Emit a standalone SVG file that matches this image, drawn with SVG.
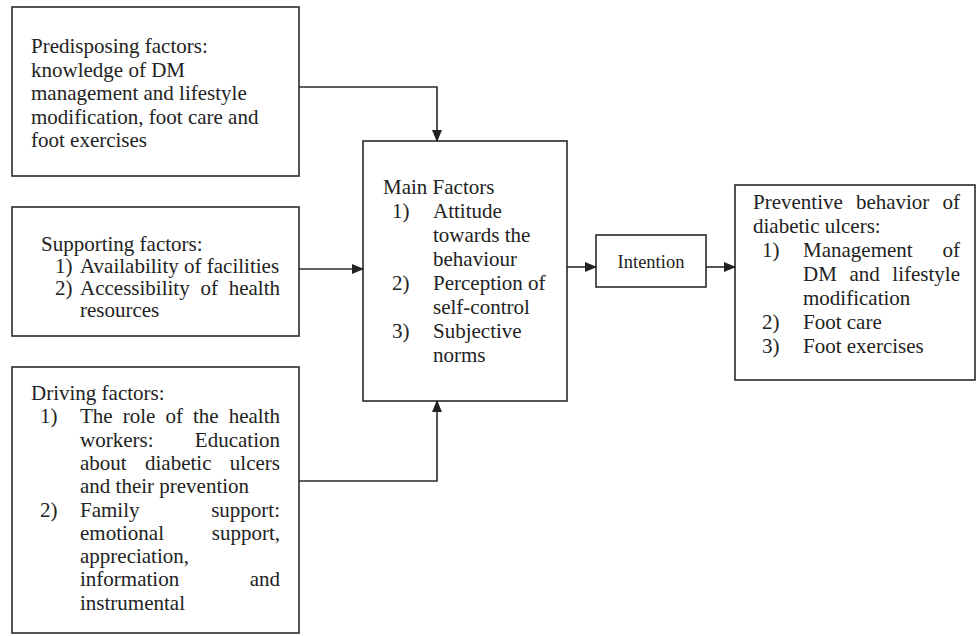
<svg xmlns="http://www.w3.org/2000/svg" width="977" height="636" viewBox="0 0 977 636">
<defs>
<marker id="ah" markerWidth="12" markerHeight="10" refX="11" refY="5" orient="auto" markerUnits="userSpaceOnUse"><path d="M0,0 L12,5 L0,10 Z" fill="#222"/></marker>
</defs>
<style>
.box{fill:none;stroke:#2a2a2a;stroke-width:1.6}
.t{font-family:"Liberation Serif","Times New Roman",serif;font-size:21px;fill:#222}
.e{text-anchor:end}
.conn{fill:none;stroke:#2a2a2a;stroke-width:1.6}
</style>
<rect width="977" height="636" fill="#fff"/>

<g id="predisposing">
<rect class="box" x="12" y="7" width="287" height="169"/>
<text class="t" x="31" y="53">Predisposing factors:</text>
<text class="t" x="31" y="76.5">knowledge of DM</text>
<text class="t" x="31" y="100">management and lifestyle</text>
<text class="t" x="31" y="123.5">modification, foot care and</text>
<text class="t" x="31" y="147">foot exercises</text>
</g>

<g id="supporting">
<rect class="box" x="12" y="207" width="287" height="129"/>
<text class="t" x="41" y="251">Supporting factors:</text>
<text class="t" x="55" y="273">1)</text>
<text class="t" x="80" y="273">Availability of facilities</text>
<text class="t" x="55" y="295">2)</text>
<text class="t" x="80" y="295">Accessibility</text>
<text class="t" x="200.4" y="295">of</text>
<text class="t e" x="280" y="295">health</text>
<text class="t" x="80" y="317">resources</text>
</g>

<g id="driving">
<rect class="box" x="12" y="367" width="287" height="266"/>
<text class="t" x="31" y="400">Driving factors:</text>
<text class="t" x="40" y="423.3">1)</text>
<text class="t" x="80" y="423.3">The</text>
<text class="t" x="122.7" y="423.3">role</text>
<text class="t" x="165.4" y="423.3">of</text>
<text class="t" x="192.9" y="423.3">the</text>
<text class="t e" x="280" y="423.3">health</text>
<text class="t" x="80" y="446.6">workers:</text>
<text class="t e" x="280" y="446.6">Education</text>
<text class="t" x="80" y="469.9">about</text>
<text class="t" x="145" y="469.9">diabetic</text>
<text class="t e" x="280" y="469.9">ulcers</text>
<text class="t" x="80" y="493.2">and their prevention</text>
<text class="t" x="40" y="516.5">2)</text>
<text class="t" x="80" y="516.5">Family</text>
<text class="t e" x="280" y="516.5">support:</text>
<text class="t" x="80" y="539.8">emotional</text>
<text class="t e" x="280" y="539.8">support,</text>
<text class="t" x="80" y="563.1">appreciation,</text>
<text class="t" x="80" y="586.4">information</text>
<text class="t e" x="280" y="586.4">and</text>
<text class="t" x="80" y="609.7">instrumental</text>
</g>

<g id="main">
<rect class="box" x="363" y="141" width="204" height="260"/>
<text class="t" x="383" y="194">Main Factors</text>
<text class="t" x="392" y="218">1)</text>
<text class="t" x="433" y="218">Attitude</text>
<text class="t" x="433" y="242">towards the</text>
<text class="t" x="433" y="266">behaviour</text>
<text class="t" x="392" y="290">2)</text>
<text class="t" x="433" y="290">Perception of</text>
<text class="t" x="433" y="314">self-control</text>
<text class="t" x="392" y="338">3)</text>
<text class="t" x="433" y="338">Subjective</text>
<text class="t" x="433" y="362">norms</text>
</g>

<g id="intention">
<rect class="box" x="596" y="235" width="110" height="52"/>
<text class="t" x="651" y="268" text-anchor="middle" style="font-size:18.5px">Intention</text>
</g>

<g id="preventive">
<rect class="box" x="735" y="185" width="240" height="195"/>
<text class="t" x="753" y="209">Preventive</text>
<text class="t" x="855.9" y="209">behavior</text>
<text class="t e" x="960" y="209">of</text>
<text class="t" x="753" y="233">diabetic ulcers:</text>
<text class="t" x="762" y="257">1)</text>
<text class="t" x="803" y="257">Management</text>
<text class="t e" x="960" y="257">of</text>
<text class="t" x="803" y="281">DM</text>
<text class="t" x="849.4" y="281">and</text>
<text class="t e" x="960" y="281">lifestyle</text>
<text class="t" x="803" y="305">modification</text>
<text class="t" x="762" y="329">2)</text>
<text class="t" x="803" y="329">Foot care</text>
<text class="t" x="762" y="353">3)</text>
<text class="t" x="803" y="353">Foot exercises</text>
</g>

<g id="connectors">
<path class="conn" d="M299,87 H437 V141" marker-end="url(#ah)"/>
<path class="conn" d="M299,269 H363" marker-end="url(#ah)"/>
<path class="conn" d="M299,481 H437 V401" marker-end="url(#ah)"/>
<path class="conn" d="M567,267 H596" marker-end="url(#ah)"/>
<path class="conn" d="M706,267 H735" marker-end="url(#ah)"/>
</g>
</svg>
